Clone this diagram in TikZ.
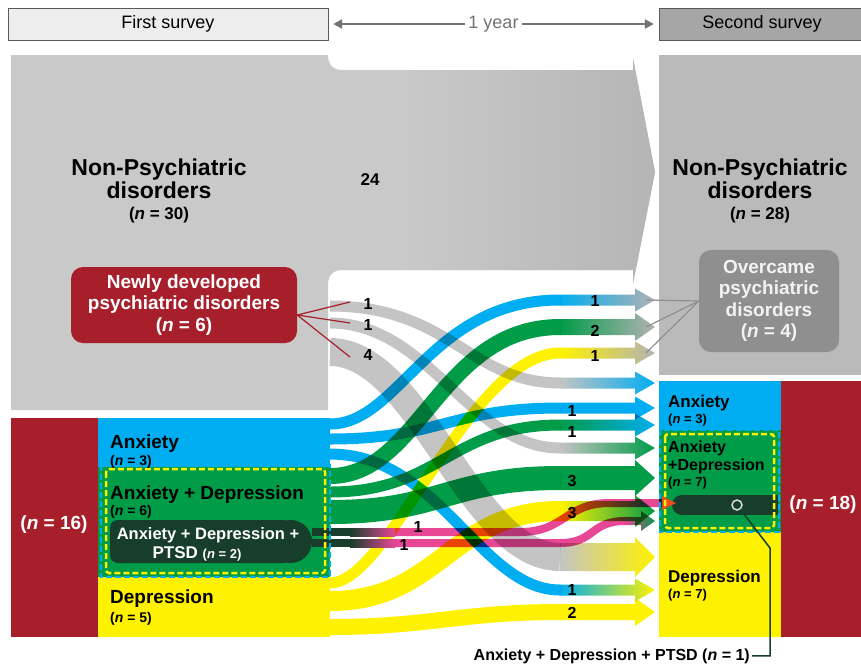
\documentclass[tikz,border=0pt]{standalone}
\usepackage{fontspec}
\setmainfont{Liberation Sans}
\usetikzlibrary{positioning,calc,arrows.meta}
\definecolor{disorderred}{rgb}{0.65, 0.12, 0.17}
\definecolor{anxietyblue}{rgb}{0.0, 0.68, 0.94}
\definecolor{mixgreen}{rgb}{0.0, 0.61, 0.28}
\definecolor{depressyellow}{rgb}{1.0, 0.95, 0.0}
\definecolor{ptsddark}{rgb}{0.09, 0.24, 0.17}
\definecolor{ptsdpink}{rgb}{0.91, 0.28, 0.59}
\definecolor{tipred}{rgb}{0.92, 0.30, 0.12}
\definecolor{flowgray}{rgb}{0.77, 0.77, 0.77}
\definecolor{endgray}{rgb}{0.70, 0.70, 0.70}
\definecolor{firstgray}{rgb}{0.79, 0.79, 0.79}
\definecolor{arrowgray}{rgb}{0.71, 0.71, 0.71}
\definecolor{secondgray}{rgb}{0.73, 0.73, 0.73}
\definecolor{boxgray}{rgb}{0.56, 0.56, 0.56}
\definecolor{headlight}{rgb}{0.93, 0.93, 0.93}
\definecolor{headdark}{rgb}{0.65, 0.65, 0.65}

% band from (#1) to fade point (#2): width #3, colour #4 fading to #5, bends #6 and #7
\newcommand{\flowband}[7]{%
	\draw[line width=#3pt,draw=#4,blend mode=multiply] (#1) .. controls +(#6,0) and +(-#7,0) .. (#2);
	\shade[left color=#4,right color=#5,blend mode=multiply] ($(#2)+(0,-#3/2)$) -- ($(#2)+(75,-#3/2)$) -- ($(#2)+(75,-#3/2-6)$) -- ($(#2)+(95,0)$) -- ($(#2)+(75,#3/2+6)$) -- ($(#2)+(75,#3/2)$) -- ($(#2)+(0,#3/2)$) -- cycle;
}

\begin{document}
\begin{tikzpicture}[x=1pt,y=-1pt,
	every node/.style={inner sep=0pt},
	big/.style={font=\fontsize{23}{23}\selectfont\bfseries},
	mid/.style={font=\fontsize{19}{21.5}\selectfont\bfseries},
	sml/.style={font=\fontsize{17}{17}\selectfont\bfseries},
	tiny/.style={font=\fontsize{14}{14}\selectfont\bfseries},
	rtiny/.style={font=\fontsize{13}{13}\selectfont\bfseries},
	num/.style={font=\fontsize{16}{16}\selectfont\bfseries},
	dashbox/.style={line width=2.5pt,dash pattern=on 6pt off 3pt}]

	\useasboundingbox (0,0) rectangle (861,665);

	% survey headers
	\node[draw=black!65,fill=headlight,minimum width=320,minimum height=32,font=\fontsize{18}{18}\selectfont] (First) at (168,24) {First survey};
	\node[draw=black!65,fill=headdark,minimum width=206,minimum height=32,font=\fontsize{18}{18}\selectfont] (Second) at (762,24) {Second survey};
	\draw[black!55,line width=2.5pt,{Triangle[length=9pt,width=9pt]}-{Triangle[length=9pt,width=9pt]},shorten <=5pt,shorten >=5pt] (First) -- node[fill=white,inner sep=3pt,font=\fontsize{18}{18}\selectfont] (Year) {1 year} (Second);

	% non-psychiatric block and the big arrow
	\fill[firstgray] (11,55) -- (328,55) .. controls (328,65) and (333,70) .. (343,70) -- (633,70) -- (633,58) -- (655,172) -- (633,284) -- (633,270) -- (343,270) .. controls (333,270) and (328,275) .. (328,285) -- (328,410) -- (11,410) -- cycle;
	\shade[left color=firstgray,right color=arrowgray] (400,70) -- (633,70) -- (633,58) -- (655,172) -- (633,284) -- (633,270) -- (400,270) -- cycle;
	\fill[secondgray] (659,55) rectangle (865,375);

	% psychiatric blocks
	\fill[disorderred] (11,418) rectangle (98,637);
	\fill[anxietyblue] (98,418) rectangle (330,467);
	\fill[mixgreen] (98,467) rectangle (330,577);
	\fill[depressyellow] (98,577) rectangle (330,637);
	\fill[anxietyblue] (659,381) rectangle (781,430);
	\fill[mixgreen] (659,430) rectangle (781,532);
	\fill[depressyellow] (659,532) rectangle (781,637);
	\fill[disorderred] (781,381) rectangle (865,637);

	% band ends
	\coordinate (new1) at (330,306);
	\coordinate (new2) at (330,323);
	\coordinate (new3) at (330,352);
	\coordinate (anx1) at (330,424);
	\coordinate (anx2) at (330,439);
	\coordinate (anx3) at (330,454);
	\coordinate (mix1) at (330,476);
	\coordinate (mix2) at (330,492);
	\coordinate (mix3) at (330,512);
	\coordinate (dep1) at (330,583);
	\coordinate (dep2) at (330,601);
	\coordinate (dep3) at (330,627);
	\coordinate (toOv1) at (560,300);
	\coordinate (toOv2) at (560,327);
	\coordinate (toOv3) at (560,353);
	\coordinate (toAnx1) at (560,383);
	\coordinate (toAnx2) at (560,408);
	\coordinate (toAnx3) at (560,425);
	\coordinate (toMix1) at (560,448);
	\coordinate (toMix2) at (560,478);
	\coordinate (toMix3) at (560,511);
	\coordinate (toDep1) at (560,557);
	\coordinate (toDep2) at (560,590);
	\coordinate (toDep3) at (560,612);

	\flowband{new1}{toAnx1}{11}{flowgray}{anxietyblue}{120}{90}
	\flowband{new2}{toMix1}{11}{flowgray}{mixgreen}{100}{90}
	\flowband{new3}{toDep1}{28}{flowgray}{depressyellow}{90}{90}
	\flowband{anx1}{toOv1}{11}{anxietyblue}{endgray}{70}{130}
	\flowband{anx2}{toAnx2}{11}{anxietyblue}{anxietyblue}{110}{110}
	\flowband{anx3}{toDep2}{11}{anxietyblue}{depressyellow}{110}{80}
	\flowband{mix1}{toOv2}{16}{mixgreen}{endgray}{90}{120}
	\flowband{mix2}{toAnx3}{11}{mixgreen}{anxietyblue}{110}{110}
	\flowband{mix3}{toMix2}{24}{mixgreen}{mixgreen}{110}{110}
	\flowband{dep1}{toOv3}{11}{depressyellow}{endgray}{60}{90}
	\flowband{dep2}{toMix3}{20}{depressyellow}{mixgreen}{110}{110}
	\flowband{dep3}{toDep3}{16}{depressyellow}{depressyellow}{100}{100}

	% PTSD lines
	\coordinate (ptsd1) at (312,532);
	\coordinate (ptsd2) at (312,543);
	\coordinate (p1bend) at (520,532);
	\coordinate (p1end) at (610,503);
	\coordinate (p1head) at (662,503);
	\coordinate (p2bend) at (560,543);
	\coordinate (p2end) at (625,521);
	\draw[ptsddark,line width=8pt] (ptsd1) -- ++(38,0);
	\draw[ptsddark,line width=8pt] (ptsd2) -- ++(38,0);
	\shade[left color=ptsddark,right color=ptsdpink] ($(ptsd1)+(38,-4)$) rectangle ($(ptsd1)+(83,4)$);
	\shade[left color=ptsddark,right color=ptsdpink] ($(ptsd2)+(38,-4)$) rectangle ($(ptsd2)+(83,4)$);
	\draw[ptsdpink,line width=8pt,blend mode=multiply] ($(ptsd1)+(83,0)$) -- (p1bend) .. controls +(45,0) and +(-45,0) .. (p1end) -- (p1head);
	\draw[ptsdpink,line width=8pt,blend mode=multiply] ($(ptsd2)+(83,0)$) -- (p2bend) .. controls +(35,0) and +(-35,0) .. (p2end);
	\shade[left color=ptsdpink,right color=mixgreen,blend mode=multiply] ($(p2end)+(0,-4)$) -- ($(p2end)+(16,-4)$) -- ($(p2end)+(16,-10)$) -- ($(p2end)+(30,0)$) -- ($(p2end)+(16,10)$) -- ($(p2end)+(16,4)$) -- ($(p2end)+(0,4)$) -- cycle;

	% PTSD pills
	\fill[ptsddark,rounded corners=8] (110,520) rectangle (291,563);
	\fill[ptsddark] (290.5,541.5) circle[radius=21.5];
	\fill[ptsddark] (682,495) rectangle (778,515);
	\fill[ptsddark] (682,505) circle[radius=10];
	\fill[tipred] ($(p1head)+(0,-7)$) -- ($(p1head)+(14,0)$) -- ($(p1head)+(0,7)$) -- cycle;

	% anxiety + depression frames
	\draw[anxietyblue,dashbox] (101,465) rectangle (330,577);
	\draw[depressyellow,dashbox,rounded corners=3] (106,469) rectangle (325,573);
	\draw[anxietyblue,dashbox] (660,430) rectangle (779,532);
	\draw[depressyellow,dashbox,rounded corners=3] (665,434) rectangle (774,528);

	% texts, first survey
	\node[big,anchor=base] (NonA) at (159,175) {Non-Psychiatric};
	\node[big,anchor=base] (NonA2) at (159,198) {disorders};
	\node[sml,anchor=base] (NonAn) at (159,219) {(\textit{n} = 30)};
	\node[sml,anchor=base] (Total) at (370,185) {24};
	\node[mid,fill=disorderred,text=white,rounded corners=12,minimum width=226,minimum height=76,align=center] (Newly) at (184,305) {Newly developed\\psychiatric disorders\\(\textit{n} = 6)};
	\coordinate (Newly hub) at ($(Newly.east)+(0,10)$);
	\draw[disorderred,line width=1.2pt] (Newly hub) -- (350,302);
	\draw[disorderred,line width=1.2pt] (Newly hub) -- (350,323);
	\draw[disorderred,line width=1.2pt] (Newly hub) -- (350,357);
	\node[num] (n1) at (368,304) {1};
	\node[num] (n2) at (368,325) {1};
	\node[num] (n3) at (368,355) {4};

	\node[mid,text=white] (FirstN) at (54,525) {(\textit{n} = 16)};
	\node[mid,anchor=base west] (AnxA) at (110,448) {Anxiety};
	\node[tiny,anchor=base west] (AnxAn) at (110,465) {(\textit{n} = 3)};
	\node[mid,anchor=base west] (MixA) at (110,499) {Anxiety + Depression};
	\node[tiny,anchor=base west] (MixAn) at (110,515) {(\textit{n} = 6)};
	\node[font=\fontsize{16.5}{16.5}\selectfont\bfseries,text=white,anchor=base] (PtsdA) at (208,539) {Anxiety + Depression +};
	\node[sml,text=white,anchor=base] (PtsdA2) at (197,558) {PTSD {\fontsize{13}{13}\selectfont(\textit{n} = 2)}};
	\node[mid,anchor=base west] (DepA) at (110,603) {Depression};
	\node[tiny,anchor=base west] (DepAn) at (110,622) {(\textit{n} = 5)};

	% texts, second survey
	\node[big,anchor=base] (NonB) at (760,175) {Non-Psychiatric};
	\node[big,anchor=base] (NonB2) at (760,198) {disorders};
	\node[sml,anchor=base] (NonBn) at (760,219) {(\textit{n} = 28)};
	\node[mid,fill=boxgray,text=white!95!black,rounded corners=12,minimum width=140,minimum height=102,align=center] (Overcame) at (769,301) {Overcame\\psychiatric\\disorders\\(\textit{n} = 4)};
	\draw[boxgray,line width=1.2pt] (Overcame.west) -- (646,300);
	\draw[boxgray,line width=1.2pt] (Overcame.west) -- (646,327);
	\draw[boxgray,line width=1.2pt] (Overcame.west) -- (646,353);

	\node[mid,text=white] (SecondN) at (823,505) {(\textit{n} = 18)};
	\node[sml,anchor=base west] (AnxB) at (668,407) {Anxiety};
	\node[rtiny,anchor=base west] (AnxBn) at (668,423) {(\textit{n} = 3)};
	\node[font=\fontsize{16}{16}\selectfont\bfseries,anchor=base west] (MixB) at (668,452) {Anxiety};
	\node[font=\fontsize{16}{16}\selectfont\bfseries,anchor=base west] (MixB2) at (668,470) {+Depression};
	\node[rtiny,anchor=base west] (MixBn) at (668,486) {(\textit{n} = 7)};
	\node[sml,anchor=base west] (DepB) at (668,582) {Depression};
	\node[rtiny,anchor=base west] (DepBn) at (668,598) {(\textit{n} = 7)};

	% band counts
	\node[num] (c1) at (595,301) {1};
	\node[num] (c2) at (595,331) {2};
	\node[num] (c3) at (595,356) {1};
	\node[num] (c4) at (572,411) {1};
	\node[num] (c5) at (572,432) {1};
	\node[num] (c6) at (572,481) {3};
	\node[num] (c7) at (572,513) {3};
	\node[num] (c8) at (572,590) {1};
	\node[num] (c9) at (572,613) {2};
	\node[num] (c10) at (418,527) {1};
	\node[num] (c11) at (404,545) {1};

	% callout for the one PTSD case
	\node[circle,draw=white!85!black,fill=ptsddark,line width=1.5pt,minimum size=10pt] (dot) at (737,505) {};
	\node[num,anchor=base east,inner sep=2pt] (note) at (752,660) {Anxiety + Depression + PTSD (\textit{n} = 1)};
	\coordinate (callout bend) at (770,548);
	\draw[ptsddark,line width=1.5pt] (dot) -- (callout bend) |- (note);
\end{tikzpicture}
\end{document}
